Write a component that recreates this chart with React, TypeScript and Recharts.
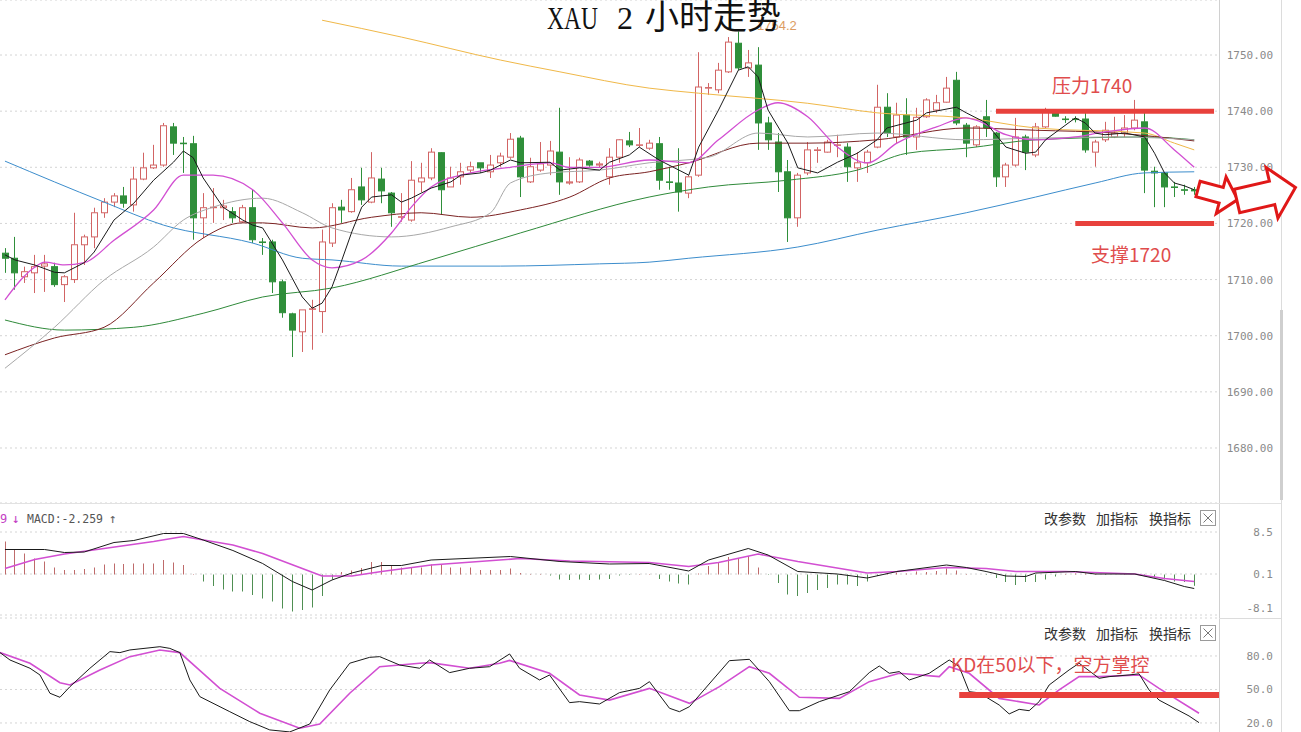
import {
  Bar,
  CartesianGrid,
  ComposedChart,
  Line,
  ReferenceLine,
  XAxis,
  YAxis,
} from "recharts";

// XAU 2h candles (index 0..120, left to right)
const OPEN = [
  1714.7, 1713.8, 1710.5, 1711.2, 1712.4, 1712.3, 1709.1, 1710.0, 1716.2, 1717.6, 1721.9, 1723.8, 1724.9, 1723.3, 1727.9, 1729.9, 1730.4, 1737.2, 1734.3, 1734.2, 1721.0, 1722.8, 1722.8, 1722.1, 1720.3, 1722.8, 1716.7, 1716.7, 1709.6, 1703.9, 1700.7, 1704.7, 1704.3,
  1716.5, 1722.9, 1722.1, 1726.5, 1723.8, 1727.9, 1725.4, 1721.1, 1720.6, 1727.4, 1728.1, 1732.6, 1726.5, 1728.3, 1729.5, 1730.8, 1729.2, 1730.8, 1731.8, 1735.2, 1727.4, 1729.5, 1730.4, 1732.7, 1727.2, 1727.4, 1731.1, 1730.4, 1728.3, 1731.8, 1734.7, 1734.0,
  1733.4, 1734.2, 1727.4, 1727.2, 1725.4, 1728.6, 1744.1, 1743.8, 1747.0, 1752.1, 1747.7, 1748.2, 1737.9, 1734.5, 1729.2, 1721.0, 1729.0, 1733.0, 1732.7, 1734.0, 1733.6, 1729.9, 1730.8, 1733.6, 1740.7, 1735.4, 1739.3, 1735.4, 1739.0, 1740.2, 1741.6, 1745.5, 1737.5,
  1734.0, 1739.0, 1736.1, 1728.3, 1730.4, 1735.4, 1732.2, 1737.2, 1739.9, 1738.6, 1738.6, 1738.6, 1732.7, 1734.9, 1735.4, 1736.1, 1737.0, 1738.1, 1729.3, 1729.0, 1726.5, 1726.0, 1726.0,
];
const HIGH = [
  1715.6, 1717.6, 1712.3, 1714.4, 1714.4, 1713.0, 1710.8, 1721.9, 1718.0, 1722.8, 1724.5, 1725.4, 1726.5, 1730.1, 1732.6, 1734.0, 1737.9, 1737.9, 1735.4, 1735.6, 1725.4, 1726.3, 1724.2, 1722.9, 1723.3, 1726.1, 1717.4, 1717.1, 1710.0, 1704.1, 1704.6, 1706.4, 1718.9,
  1723.6, 1724.2, 1728.1, 1729.9, 1732.7, 1729.9, 1725.6, 1725.4, 1731.1, 1730.8, 1733.4, 1732.7, 1730.1, 1730.8, 1731.0, 1730.8, 1732.2, 1732.6, 1736.1, 1735.6, 1731.7, 1734.5, 1734.7, 1740.6, 1731.8, 1731.7, 1731.3, 1731.0, 1733.4, 1735.0, 1736.3, 1737.0,
  1734.9, 1735.4, 1730.1, 1733.4, 1728.6, 1750.5, 1745.0, 1748.6, 1753.2, 1754.2, 1750.9, 1751.4, 1739.0, 1736.1, 1731.3, 1729.0, 1734.5, 1733.6, 1734.9, 1735.8, 1734.3, 1732.7, 1733.1, 1744.7, 1743.2, 1741.5, 1742.3, 1740.6, 1742.3, 1742.9, 1746.1, 1747.0, 1737.9,
  1737.5, 1742.0, 1736.3, 1730.8, 1738.8, 1735.8, 1737.9, 1740.6, 1740.2, 1739.1, 1739.1, 1739.9, 1734.9, 1738.1, 1739.0, 1739.3, 1742.0, 1739.9, 1730.1, 1729.0, 1727.4, 1726.9, 1726.5,
];
const LOW = [
  1711.2, 1708.2, 1709.4, 1707.6, 1707.8, 1708.7, 1706.0, 1709.4, 1712.6, 1715.6, 1721.0, 1722.9, 1722.8, 1722.1, 1727.7, 1729.7, 1730.1, 1732.2, 1729.0, 1717.1, 1717.4, 1720.1, 1720.6, 1720.1, 1720.1, 1716.5, 1714.4, 1707.6, 1703.2, 1696.2, 1697.1, 1697.5, 1700.5,
  1715.8, 1720.1, 1721.9, 1723.3, 1723.6, 1723.6, 1719.4, 1720.3, 1720.3, 1725.6, 1727.7, 1721.5, 1726.5, 1726.9, 1729.0, 1729.0, 1728.1, 1730.1, 1731.5, 1724.7, 1727.2, 1729.2, 1728.6, 1725.1, 1726.9, 1727.2, 1730.1, 1729.9, 1726.9, 1730.8, 1733.6, 1733.6,
  1733.1, 1726.0, 1726.0, 1722.1, 1724.5, 1728.3, 1742.9, 1743.2, 1746.8, 1747.3, 1746.1, 1733.1, 1733.1, 1725.6, 1716.7, 1719.4, 1728.6, 1730.8, 1732.6, 1731.8, 1727.4, 1727.4, 1729.0, 1733.4, 1735.4, 1734.3, 1732.2, 1733.1, 1738.8, 1739.7, 1741.5, 1737.5, 1731.8,
  1733.6, 1735.4, 1726.5, 1726.5, 1730.1, 1729.5, 1731.8, 1737.0, 1739.0, 1737.9, 1738.0, 1732.6, 1730.1, 1734.5, 1735.2, 1735.4, 1736.6, 1725.4, 1722.9, 1722.9, 1724.7, 1725.1, 1725.1,
];
const CLOSE = [
  1713.8, 1711.2, 1711.4, 1712.3, 1712.8, 1709.1, 1710.5, 1716.2, 1717.6, 1721.9, 1723.8, 1724.9, 1723.6, 1727.9, 1729.9, 1730.4, 1737.4, 1734.3, 1734.2, 1721.0, 1722.8, 1722.9, 1723.1, 1721.0, 1722.8, 1717.1, 1716.6, 1709.6, 1704.1, 1701.0, 1704.6, 1704.8, 1716.7,
  1722.8, 1722.4, 1726.0, 1724.2, 1728.1, 1725.8, 1721.9, 1721.2, 1727.7, 1728.1, 1732.7, 1726.0, 1728.1, 1729.2, 1730.1, 1729.9, 1730.4, 1732.0, 1735.0, 1728.3, 1730.1, 1730.6, 1732.9, 1727.4, 1727.4, 1731.3, 1730.4, 1730.6, 1731.8, 1734.9, 1734.0, 1734.0,
  1734.3, 1727.7, 1727.3, 1725.6, 1728.3, 1744.3, 1744.2, 1747.3, 1752.3, 1747.7, 1748.6, 1737.9, 1734.9, 1729.2, 1721.0, 1728.6, 1733.1, 1733.1, 1734.5, 1734.0, 1730.1, 1730.8, 1732.7, 1740.7, 1736.1, 1739.3, 1735.4, 1738.9, 1742.0, 1741.5, 1744.1, 1737.9, 1734.3,
  1737.2, 1737.0, 1728.3, 1730.4, 1735.4, 1732.7, 1737.2, 1739.9, 1739.1, 1738.5, 1738.5, 1733.1, 1734.5, 1736.6, 1736.1, 1737.0, 1738.4, 1729.5, 1729.0, 1726.5, 1726.4, 1725.9, 1725.8,
];

// moving averages, [candle index, price] read at points along each curve
const MA5 = [[0, 1714.4], [1, 1713.5], [3, 1712.6], [5, 1711.3], [6, 1711.2], [8, 1713.0], [9, 1714.9], [11, 1720.6], [13, 1723.6], [15, 1727.7], [17, 1730.9], [18, 1732.9], [19, 1731.7], [20, 1728.1], [22, 1722.9], [24, 1720.6], [25, 1719.7], [26, 1719.2], [28, 1713.5], [30, 1706.9], [31, 1704.9], [32, 1705.8], [33, 1708.7], [34, 1713.5], [35, 1718.5], [36, 1722.9], [37, 1724.7], [39, 1725.1], [40, 1723.8], [41, 1724.5], [43, 1726.3], [45, 1727.4], [46, 1728.6], [48, 1729.0], [49, 1729.5], [51, 1731.3], [52, 1730.8], [55, 1730.9], [56, 1729.5], [58, 1729.9], [60, 1729.5], [61, 1730.9], [63, 1732.2], [64, 1733.6], [66, 1731.3], [69, 1728.6], [70, 1733.6], [72, 1740.2], [74, 1747.3], [75, 1747.9], [76, 1746.1], [77, 1740.2], [79, 1734.3], [80, 1729.9], [82, 1729.0], [84, 1730.9], [86, 1732.5], [88, 1734.9], [89, 1737.0], [92, 1738.4], [93, 1739.7], [96, 1740.7], [97, 1739.7], [99, 1737.9], [101, 1733.6], [103, 1732.5], [104, 1732.7], [105, 1734.9], [108, 1738.8], [109, 1737.9], [110, 1736.1], [111, 1735.8], [113, 1736.1], [115, 1735.4], [116, 1732.5], [117, 1729.0], [118, 1727.2], [119, 1726.7], [120, 1726.0]];
const MA10 = [[0, 1706.4], [3, 1712.2], [4, 1713.1], [6, 1712.6], [8, 1713.0], [11, 1717.0], [15, 1722.4], [18, 1728.6], [21, 1728.6], [25, 1726.0], [28, 1720.1], [31, 1713.5], [33, 1712.1], [36, 1713.5], [39, 1718.3], [41, 1722.9], [43, 1726.5], [47, 1729.0], [51, 1730.0], [55, 1730.8], [57, 1730.0], [60, 1730.0], [65, 1731.3], [69, 1730.8], [72, 1734.9], [76, 1740.2], [78, 1741.5], [81, 1739.0], [84, 1733.6], [87, 1730.8], [90, 1734.3], [94, 1737.2], [97, 1738.8], [98, 1738.4], [101, 1735.8], [104, 1734.9], [108, 1735.4], [111, 1736.3], [115, 1737.0], [118, 1733.1], [120, 1730.0]];
const MA20 = [[0, 1694.2], [5, 1701.5], [10, 1709.9], [15, 1715.8], [18, 1720.6], [21, 1722.9], [26, 1724.5], [30, 1721.9], [33, 1719.2], [39, 1717.6], [45, 1719.4], [49, 1721.9], [51, 1727.2], [55, 1729.0], [60, 1729.5], [65, 1730.8], [71, 1731.8], [76, 1736.1], [81, 1735.4], [88, 1736.1], [97, 1734.9], [104, 1735.2], [112, 1735.4], [120, 1734.9]];
const MA30 = [[0, 1696.6], [5, 1699.6], [10, 1701.5], [15, 1709.4], [20, 1717.4], [24, 1720.1], [26, 1720.1], [31, 1719.2], [37, 1721.1], [42, 1721.9], [47, 1721.1], [52, 1722.4], [57, 1724.7], [61, 1728.1], [65, 1729.2], [69, 1730.8], [76, 1734.3], [81, 1734.3], [88, 1734.9], [97, 1737.0], [104, 1736.6], [112, 1736.1], [120, 1734.7]];
const MA60 = [[0, 1702.8], [6, 1701.0], [13, 1701.5], [20, 1704.0], [26, 1706.9], [33, 1708.5], [43, 1713.5], [52, 1718.3], [65, 1724.7], [71, 1726.5], [79, 1727.7], [86, 1729.5], [91, 1732.5], [97, 1733.4], [104, 1734.9], [115, 1735.4], [120, 1734.9]];
const MA120 = [[0, 1731.1], [10, 1723.8], [16, 1719.7], [25, 1716.5], [30, 1713.8], [33, 1713.5], [40, 1712.4], [50, 1712.4], [60, 1712.8], [65, 1713.1], [69, 1713.8], [80, 1715.8], [88, 1718.8], [97, 1721.9], [104, 1724.7], [110, 1727.2], [115, 1729.0], [120, 1729.2]];
const MA250 = [[32, 1756.2], [40, 1753.2], [50, 1749.1], [56, 1747.0], [65, 1744.1], [70, 1743.2], [81, 1741.4], [88, 1739.7], [97, 1738.8], [104, 1737.0], [115, 1736.1], [118, 1734.3], [120, 1733.1]];

// MACD histogram per candle, DIF / DEA curves
const MACD = [
  6.6, 5.0, 4.2, 3.2, 2.6, 1.4, 0.9, 0.9, 1.1, 1.4, 2.0, 2.2, 2.1, 2.2, 2.2, 2.2, 2.9, 2.4, 1.9, 0.1, -1.4,
  -2.3, -3.0, -3.4, -3.4, -4.1, -4.8, -5.4, -6.8, -7.4, -7.1, -6.6, -4.3, -1.0, 0.5, 0.8, 1.3, 2.5, 2.5, 1.7, 1.4,
  1.4, 1.4, 2.0, 2.0, 1.4, 1.4, 1.4, 0.9, 0.9, 0.9, 1.2, 0.3, 0.1, 0.1, -0.2, -1.0, -1.1, -1.0, -1.1, -1.0,
  -0.9, -0.2, -0.1, 0.1, 0.1, -0.9, -1.4, -1.8, -2.0, 0.2, 1.7, 2.3, 3.5, 3.3, 3.7, 1.4, -0.1, -1.7, -4.0, -4.3,
  -3.7, -3.1, -2.7, -2.0, -2.0, -2.3, -1.4, -0.3, 0.3, 0.4, 0.2, 0.6, 0.5, 0.7, 1.2, 0.8, 0.1, 0.0, -0.1, -0.7,
  -1.5, -2.1, -1.5, -1.5, -1.0, -0.4, 0.1, 0.2, 0.2, 0.1, -0.1, 0.0, 0.1, 0.1, -0.2, -0.6, -1.0, -1.4, -1.5, -2.26,
];
const DIF = [[0, 5.0], [4, 5.0], [6, 4.4], [8, 4.5], [11, 6.4], [13, 6.8], [16, 8.2], [18, 8.2], [20, 6.9], [23, 4.8], [26, 2.2], [29, -1.4], [31, -3.1], [33, -1.1], [35, 0.3], [38, 1.8], [40, 1.8], [43, 2.9], [51, 3.6], [56, 2.6], [61, 2.1], [65, 2.2], [69, 0.7], [71, 2.9], [75, 5.2], [77, 3.9], [80, 0.6], [84, 0.1], [87, -0.7], [90, 0.6], [95, 1.9], [97, 1.4], [99, 0.6], [101, -0.3], [103, -0.4], [104, 0.3], [108, 0.6], [110, 0.1], [114, 0.1], [117, -1.2], [119, -2.4], [120, -2.8]];
const DEA = [[0, 1.2], [3, 3.0], [6, 4.1], [10, 5.2], [15, 6.6], [18, 7.6], [23, 5.9], [26, 4.2], [30, 1.2], [32, -0.3], [35, -0.3], [38, 0.6], [43, 1.9], [52, 3.2], [57, 2.7], [65, 2.4], [69, 1.6], [72, 2.4], [76, 4.1], [80, 2.6], [87, 0.3], [90, 0.6], [95, 1.4], [99, 1.2], [102, 0.6], [107, 0.6], [114, 0.1], [117, -0.8], [120, -1.4]];

// KD
const K = [[0, 83.0], [1, 76.4], [3, 69.0], [4, 63.0], [5, 46.6], [6, 43.0], [7, 52.5], [9, 69.0], [11, 83.9], [12, 83.0], [13, 85.4], [16, 88.3], [17, 86.8], [18, 83.0], [19, 58.5], [20, 43.6], [23, 30.1], [25, 21.2], [27, 13.8], [29, 12.0], [31, 19.1], [33, 49.6], [35, 73.5], [37, 78.8], [38, 79.4], [40, 71.9], [42, 69.0], [43, 76.4], [45, 65.1], [47, 69.0], [49, 70.4], [51, 81.8], [52, 69.0], [54, 58.5], [55, 63.0], [57, 38.2], [58, 39.1], [60, 37.0], [62, 47.2], [64, 51.0], [65, 57.0], [67, 33.2], [68, 30.1], [69, 34.6], [73, 75.8], [75, 77.0], [77, 57.0], [79, 31.0], [80, 31.0], [82, 39.1], [85, 48.0], [87, 65.1], [88, 71.0], [89, 64.5], [90, 66.0], [91, 58.5], [93, 64.5], [95, 76.4], [96, 70.4], [97, 48.0], [98, 47.0], [100, 36.1], [101, 28.1], [102, 32.2], [103, 31.0], [104, 39.1], [105, 54.0], [107, 67.5], [108, 73.5], [110, 60.0], [111, 61.5], [113, 63.0], [114, 64.0], [115, 49.6], [116, 40.5], [119, 26.3], [120, 20.3]];
const D = [[0, 83.0], [3, 73.5], [6, 56.1], [7, 54.0], [10, 67.5], [13, 79.4], [16, 85.4], [18, 83.0], [22, 51.0], [26, 28.7], [30, 15.3], [32, 19.1], [35, 46.6], [38, 70.4], [42, 73.5], [43, 74.0], [47, 69.0], [50, 73.5], [51, 76.0], [55, 64.5], [58, 45.1], [61, 40.5], [65, 51.0], [69, 37.6], [72, 52.5], [75, 70.4], [77, 64.5], [80, 43.0], [84, 42.0], [87, 57.0], [90, 64.5], [94, 61.5], [95, 70.4], [97, 64.5], [100, 42.0], [104, 36.1], [106, 49.6], [108, 61.5], [110, 61.5], [114, 63.0], [116, 51.0], [120, 28.7]];

const PRICE_TICKS = [1680, 1690, 1700, 1710, 1720, 1730, 1740, 1750];
const MACD_TICKS = [8.5, 0.1, -8.1];
const KD_TICKS = [80, 50, 20];

const N = OPEN.length;
const PAD = 2; // empty slots to the right of the last candle

function spread(pairs: number[][]): (number | null)[] {
  const out: (number | null)[] = Array(N + PAD).fill(null);
  pairs.forEach(([i, v]) => (out[i] = v));
  return out;
}

const lines = {
  ma5: spread(MA5), ma10: spread(MA10), ma20: spread(MA20), ma30: spread(MA30),
  ma60: spread(MA60), ma120: spread(MA120), ma250: spread(MA250),
  dif: spread(DIF), dea: spread(DEA), k: spread(K), d: spread(D),
};

const ROWS = Array.from({ length: N + PAD }, (_, i) => ({
  i,
  open: OPEN[i] ?? null,
  high: HIGH[i] ?? null,
  low: LOW[i] ?? null,
  close: CLOSE[i] ?? null,
  range: i < N ? [LOW[i], HIGH[i]] : null,
  macd: MACD[i] ?? null,
  ma5: lines.ma5[i], ma10: lines.ma10[i], ma20: lines.ma20[i], ma30: lines.ma30[i],
  ma60: lines.ma60[i], ma120: lines.ma120[i], ma250: lines.ma250[i],
  dif: lines.dif[i], dea: lines.dea[i], k: lines.k[i], d: lines.d[i],
}));

const W = 1301;
const AXIS_W = 82;
const UP = "#d26464";
const DOWN = "#2f8f3a";
const RED_MARK = "#e8413c";
const MONO = '"DejaVu Sans Mono", monospace';
const CJK = '"Noto Sans CJK SC", sans-serif';

function Candle(props: any) {
  const { x, y, width, height, payload } = props;
  if (!payload || payload.open == null) return <g />;
  const { open, close, high, low } = payload;
  const top = Math.min(y, y + height);
  const bot = Math.max(y, y + height);
  const k = high === low ? 0 : (bot - top) / (high - low);
  const py = (v: number) => top + (high - v) * k;
  const up = close >= open;
  const color = up ? UP : DOWN;
  const cx = Math.round(x + width / 2) + 0.5;
  const bTop = py(Math.max(open, close));
  const bBot = py(Math.min(open, close));
  const left = Math.round(cx - 3.5) + 0.5;
  return (
    <g>
      <line x1={cx} x2={cx} y1={top} y2={bTop} stroke={color} />
      <line x1={cx} x2={cx} y1={bBot} y2={bot} stroke={color} />
      <rect x={left} y={bTop} width={6} height={Math.max(bBot - bTop, 0.5)} fill={up ? "#fff" : color} stroke={color} />
    </g>
  );
}

function Stick(props: any) {
  const { x, y, width, height, payload } = props;
  if (!payload || payload.macd == null || payload.macd === 0) return <g />;
  const cx = Math.round(x + width / 2) + 0.5;
  return (
    <line
      x1={cx}
      x2={cx}
      y1={Math.min(y, y + height)}
      y2={Math.max(y, y + height)}
      stroke={payload.macd >= 0 ? "#bf6b6b" : "#4f8f52"}
    />
  );
}

// right-aligned tick labels; maxY keeps the lowest label inside its panel
const axisTick = (digits: number, maxY = 9999) => (p: any) => (
  <text x={1273} y={Math.min(p.y, maxY)} dy={4} textAnchor="end" fill="#8a8a8a" fontSize={11} fontFamily={MONO}>
    {Number(p.payload.value).toFixed(digits)}
  </text>
);

const grid = <CartesianGrid vertical={false} stroke="#d4d4d4" strokeDasharray="2 3" />;
const xAxis = <XAxis dataKey="i" type="category" hide />;
const margin = { top: 0, right: 0, bottom: 0, left: 0 };

function line(key: string, color: string, width = 1, type: "linear" | "monotone" = "monotone") {
  return (
    <Line
      key={key}
      dataKey={key}
      type={type}
      stroke={color}
      strokeWidth={width}
      dot={false}
      activeDot={false}
      connectNulls
      isAnimationActive={false}
    />
  );
}

function MainPanel() {
  return (
    <ComposedChart width={W} height={503} data={ROWS} margin={margin}>
      {grid}
      {xAxis}
      <YAxis
        orientation="right"
        width={AXIS_W}
        type="number"
        domain={[1670.2, 1759.8]}
        allowDataOverflow
        ticks={PRICE_TICKS}
        interval={0}
        axisLine={false}
        tickLine={false}
        tick={axisTick(2)}
      />
      <Bar dataKey="range" barSize={7} shape={Candle} isAnimationActive={false} />
      {line("ma120", "#3c8dcc")}
      {line("ma250", "#f0b848")}
      {line("ma60", "#2f8a3a")}
      {line("ma30", "#7b2323")}
      {line("ma20", "#a8a8a8")}
      {line("ma10", "#d24fd2", 1.3)}
      {line("ma5", "#1a1a1a", 1, "linear")}
      <ReferenceLine segment={[{ x: 100, y: 1740 }, { x: 122, y: 1740 }]} stroke={RED_MARK} strokeWidth={5} />
      <ReferenceLine segment={[{ x: 108, y: 1720 }, { x: 122, y: 1720 }]} stroke={RED_MARK} strokeWidth={5} />
    </ComposedChart>
  );
}

function MacdPanel() {
  return (
    <ComposedChart width={W} height={115} data={ROWS} margin={margin}>
      {grid}
      {xAxis}
      <YAxis
        orientation="right"
        width={AXIS_W}
        type="number"
        domain={[-8.7, 14.3]}
        allowDataOverflow
        ticks={MACD_TICKS}
        interval={0}
        axisLine={false}
        tickLine={false}
        tick={axisTick(1, 105)}
      />
      <Bar dataKey="macd" barSize={1} shape={Stick} isAnimationActive={false} />
      {line("dea", "#d24fd2", 1.6, "linear")}
      {line("dif", "#1a1a1a", 1, "linear")}
    </ComposedChart>
  );
}

function KdPanel() {
  return (
    <ComposedChart width={W} height={130} data={ROWS} margin={margin}>
      {grid}
      {xAxis}
      <YAxis
        orientation="right"
        width={AXIS_W}
        type="number"
        domain={[-2.4, 114]}
        allowDataOverflow
        ticks={KD_TICKS}
        interval={0}
        axisLine={false}
        tickLine={false}
        tick={axisTick(1)}
      />
      {line("d", "#d24fd2", 1.6, "linear")}
      {line("k", "#1a1a1a", 1, "linear")}
      <ReferenceLine segment={[{ x: 96, y: 45 }, { x: 122, y: 45 }]} stroke={RED_MARK} strokeWidth={6} />
    </ComposedChart>
  );
}

function arrow(L: number, L1: number, h1: number, h2: number) {
  return `0,${-h1} ${L1},${-h1} ${L1},${-h2} ${L},0 ${L1},${h2} ${L1},${h1} 0,${h1}`;
}

function PanelTools({ y }: { y: number }) {
  return (
    <g>
      <text x={1044} y={y} fontSize={14} fill="#333" fontFamily={CJK}>改参数</text>
      <text x={1096} y={y} fontSize={14} fill="#333" fontFamily={CJK}>加指标</text>
      <text x={1149} y={y} fontSize={14} fill="#333" fontFamily={CJK}>换指标</text>
      <rect x={1200.5} y={y - 13.5} width={15} height={15} fill="#fff" stroke="#9a9a9a" />
      <path d={`M1203.5 ${y - 10.5} L1212.5 ${y - 1.5} M1212.5 ${y - 10.5} L1203.5 ${y - 1.5}`} stroke="#777" />
    </g>
  );
}

function Overlay() {
  return (
    <svg width={W} height={732} style={{ position: "absolute", left: 0, top: 0, pointerEvents: "none" }}>
      {/* frame */}
      <line x1={1219.5} x2={1219.5} y1={0} y2={732} stroke="#d0d0d0" />
      <line x1={1281.5} x2={1281.5} y1={0} y2={732} stroke="#dcdcdc" />
      <rect x={1280} y={310} width={3} height={190} fill="#cfcfcf" />
      <line x1={0} x2={1281} y1={503.5} y2={503.5} stroke="#e2e2e2" />
      <line x1={1219} x2={1281} y1={618.5} y2={618.5} stroke="#dcdcdc" />

      {/* high marker and title */}
      <text x={757} y={30} fontSize={13} fill="#dc9c62" fontFamily='"Liberation Sans", sans-serif'>1754.2</text>
      <text x={547} y={29} fontSize={32} fill="#111" fontFamily='"Liberation Serif", serif' textLength={51} lengthAdjust="spacingAndGlyphs">XAU</text>
      <text x={617} y={29} fontSize={32} fill="#111" fontFamily='"Liberation Serif", serif'>2</text>
      <text x={645} y={29} fontSize={34} fill="#111" fontFamily={CJK}>小时走势</text>

      {/* annotations */}
      <text x={1052} y={93} fontSize={19} fill="#e04c4c" fontFamily={CJK}>压力1740</text>
      <text x={1091} y={262} fontSize={19} fill="#e04c4c" fontFamily={CJK}>支撑1720</text>
      <text x={951} y={672} fontSize={19} fill="#e04c4c" fontFamily={CJK}>KD在50以下，空方掌控</text>
      <polygon points={arrow(41, 24, 8, 19)} transform="translate(1198,189) rotate(15)" fill="#fff" stroke="#e01818" strokeWidth={3} />
      <polygon points={arrow(60, 36, 12, 26)} transform="translate(1237,201) rotate(-13)" fill="#fff" stroke="#e01818" strokeWidth={3} />

      {/* panel headers */}
      <text x={0} y={523} fontSize={12} fill="#c440c4" fontFamily={MONO}>9</text>
      <text x={12} y={523} fontSize={13} fill="#c440c4" fontFamily={MONO}>↓</text>
      <text x={27} y={523} fontSize={11.5} fill="#555" fontFamily={MONO} textLength={76} lengthAdjust="spacingAndGlyphs">MACD:-2.259</text>
      <text x={109} y={523} fontSize={13} fill="#666" fontFamily={MONO}>↑</text>
      <PanelTools y={524} />
      <PanelTools y={639} />
    </svg>
  );
}

export default function App() {
  return (
    <div
      style={{
        position: "absolute",
        left: 0,
        top: 0,
        width: W,
        height: 732,
        overflow: "hidden",
        background: "#fff",
        fontFamily: CJK,
      }}
    >
      <div style={{ position: "absolute", left: 0, top: 0 }}>
        <MainPanel />
      </div>
      <div style={{ position: "absolute", left: 0, top: 503 }}>
        <MacdPanel />
      </div>
      <div style={{ position: "absolute", left: 0, top: 618 }}>
        <KdPanel />
      </div>
      <Overlay />
    </div>
  );
}
